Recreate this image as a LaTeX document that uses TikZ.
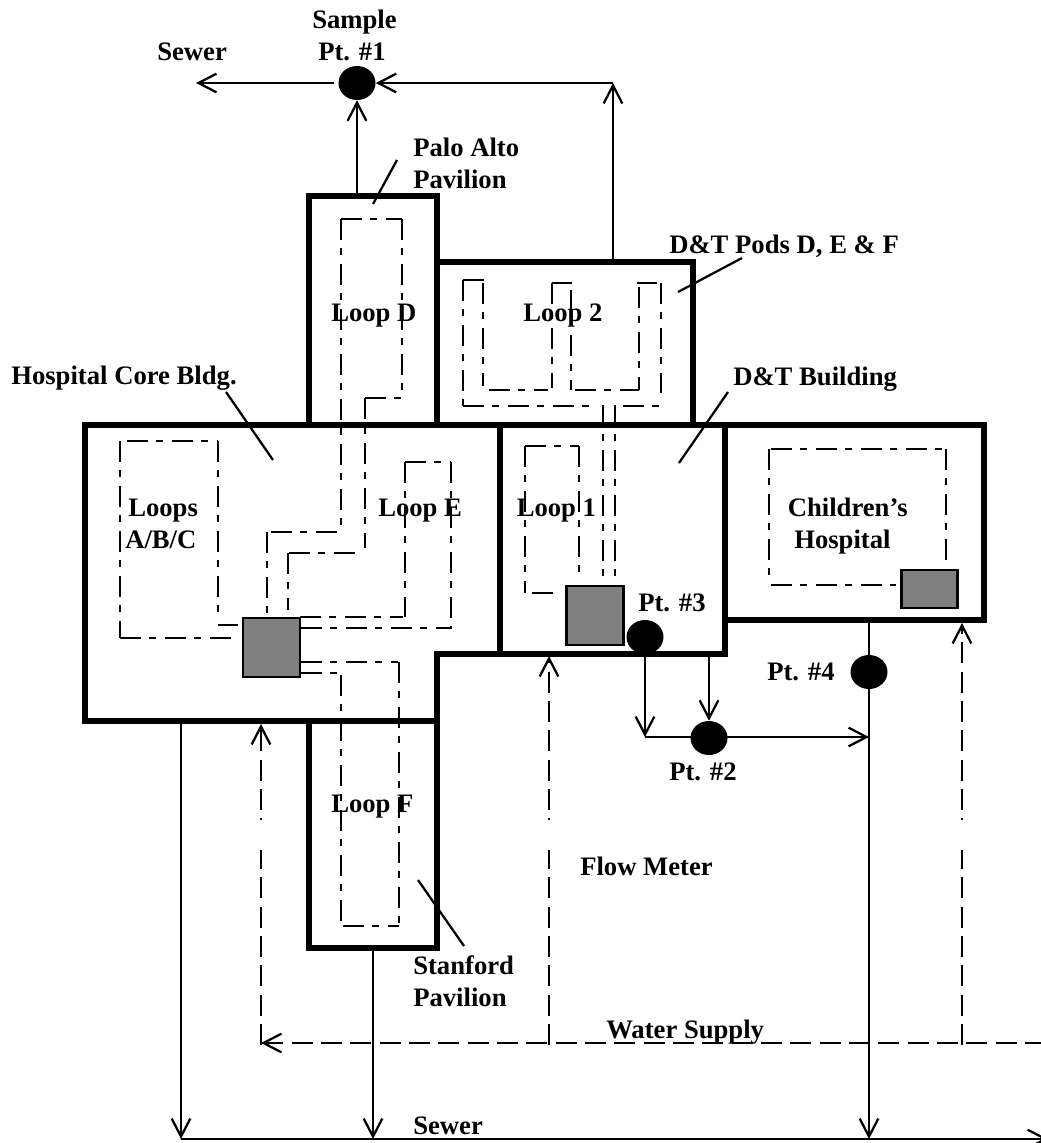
\documentclass[tikz,border=0pt]{standalone}
\usepackage{fontspec}
\setmainfont{Liberation Serif}
\usetikzlibrary{arrows.meta,shapes.geometric}
\definecolor{boxgray}{gray}{0.5}
\tikzset{
  wall/.style={line width=4.2pt,line join=miter},
  flow/.style={line width=1.7pt,-{Straight Barb[length=13.5pt,width=14pt,line width=1.7pt]}},
  plainline/.style={line width=1.7pt},
  supply/.style={flow,dash pattern=on 15.75pt off 6.25pt},
  supplyplain/.style={line width=1.7pt,dash pattern=on 15.75pt off 6.25pt},
  loopline/.style={line width=1.7pt,dash pattern=on 15.75pt off 6pt on 5.25pt off 6.75pt},
  leader/.style={line width=1.7pt},
  pump/.style={draw=black,line width=1.7pt,fill=boxgray,inner sep=0pt,rectangle},
  sample/.style={ellipse,fill=black,inner sep=0pt,minimum width=27.75pt,minimum height=25.5pt},
  lab/.style={inner sep=0pt,anchor=base west,font=\bfseries\fontsize{20}{24}\selectfont},
}
\begin{document}
\begin{tikzpicture}[x=0.75pt,y=-0.75pt]
\useasboundingbox (0,0) rectangle (1041,1143);

% sampling points (Pt. #3 lies under the wall)
\node[sample] (s1) at (357,83) {};
\node[sample] (s2) at (709,738) {};
\node[sample] (s3) at (645,637) {};
\node[sample] (s4) at (869,672) {};

% free ends
\coordinate (sewerW) at (196,83);
\coordinate (s1gap) at (334,83);
\coordinate (corner1) at (613,83);
\coordinate (podsTop) at (613,262);
\coordinate (paloTop) at (357,196);
\coordinate (bldgB) at (709,653);
\coordinate (join2) at (645,737);
\coordinate (main4) at (869,737);
\coordinate (childBot) at (869,620);
\coordinate (sewerA) at (181,1139);
\coordinate (sewerB) at (373,1139);
\coordinate (sewerC) at (869,1139);
\coordinate (sewerE) at (1048,1139);
\coordinate (coreBot) at (181,721);
\coordinate (stanBot) at (373,948);
\coordinate (supE) at (1046,1043);
\coordinate (supW) at (261,1043);
\coordinate (supM) at (549,1045);
\coordinate (supL) at (261,1045);
\coordinate (supR) at (962,1045);
\coordinate (tipW) at (261,724);
\coordinate (tipM) at (549,656);
\coordinate (tipR) at (962,623);
\coordinate (gapWa) at (261,810);
\coordinate (gapWb) at (261,850);
\coordinate (gapMa) at (549,810);
\coordinate (gapMb) at (549,850);
\coordinate (gapRa) at (962,810);
\coordinate (gapRb) at (962,850);
\coordinate (dotWa) at (261,817.5);
\coordinate (dotWb) at (261,820);
\coordinate (dotMa) at (549,817.5);
\coordinate (dotMb) at (549,820);
\coordinate (dotRa) at (962,817.5);
\coordinate (dotRb) at (962,820);

% loops: every straight run restarts its own dash pattern
\draw[loopline] (127,441) -- (218,441) (120,441) -- (120,638) (120,638) -- (233,638)
  (218,441) -- (218,613) (218,625) -- (238,625);
\draw[loopline] (341,219) -- (402,219) (341,219) -- (341,532) (402,219) -- (402,398)
  (365,398) -- (402,398) (365,398) -- (365,548) (271,532) -- (337,532)
  (267,532) -- (267,613) (289,553) -- (356,553) (288,553) -- (288,610);
\draw[loopline] (300,617) -- (403,617) (301,628) -- (452,628) (405,462) -- (405,617)
  (405,462) -- (451,462) (451,462) -- (451,628);
\draw[loopline] (301,662) -- (398,662) (301,673) -- (338,673) (341,675) -- (341,926)
  (399,662) -- (399,926) (343,926) -- (399,926);
\draw[loopline] (525,446) -- (525,593) (525,446) -- (579,446) (579,446) -- (579,575)
  (532,593) -- (553,593);
\draw[loopline] (603,405) -- (603,578) (615,405) -- (615,578);
\draw[loopline] (463,280) -- (463,406) (463,280) -- (484,280) (483,283) -- (483,386)
  (489,390) -- (548,390) (552,283) -- (552,388) (552,283) -- (572,283) (571,290) -- (571,390)
  (575,390) -- (639,390) (639,287) -- (639,390) (637,283) -- (657,283) (661,283) -- (661,393)
  (463,406) -- (592,406) (623,406) -- (661,406);
\draw[loopline] (771,449) -- (946,449) (769,449) -- (769,578) (771,585) -- (896,585)
  (946,449) -- (946,562);

% gray mechanical rooms
\node[pump,minimum width=42.75pt,minimum height=44.25pt] (roomA) at (271.5,647.5) {};
\node[pump,minimum width=42.75pt,minimum height=44.25pt] (roomB) at (595,615.5) {};
\node[pump,minimum width=42pt,minimum height=28.5pt] (roomC) at (929.5,589) {};

% buildings
\draw[wall] (437,654) -- (500,654) -- (500,425) -- (85,425) -- (85,721) -- (437,721) -- cycle;
\draw[wall] (309,425) -- (309,196) -- (437,196) -- (437,425);
\draw[wall] (437,262) -- (693,262) -- (693,425);
\draw[wall] (500,425) -- (725,425) -- (725,654) -- (500,654);
\draw[wall] (725,425) -- (984,425) -- (984,620) -- (725,620);
\draw[wall] (309,721) -- (309,948) -- (437,948) -- (437,721);

% sewer flows
\draw[flow] (s1gap) -- (sewerW);
\draw[flow] (corner1) -- (s1);
\draw[flow] (paloTop) -- (s1);
\draw[flow] (podsTop) -- (corner1);
\draw[flow] (s3) -- (join2);
\draw[flow] (bldgB) -- (s2);
\draw[plainline] (join2) -- (join2 -| s2);
\draw[flow] (join2 -| s2) -- (main4);
\draw[plainline] (childBot) -- (s4);
\draw[flow] (s4) -- (sewerC);
\draw[flow] (coreBot) -- (sewerA);
\draw[flow] (stanBot) -- (sewerB);
\draw[flow] (sewerA) -- (sewerE);

% water supply
\draw[supply] (supE) -- (supW);
\draw[supplyplain] (supL) -- (gapWb);
\draw[supply] (gapWa) -- (tipW);
\draw[plainline] (dotWa) -- (dotWb);
\draw[supplyplain] (supM) -- (gapMb);
\draw[supply] (gapMa) -- (tipM);
\draw[plainline] (dotMa) -- (dotMb);
\draw[supplyplain] (supR) -- (gapRb);
\draw[supply] (gapRa) -- (tipR);
\draw[plainline] (dotRa) -- (dotRb);

% leaders
\draw[leader] (226,392) -- (273,460);
\draw[leader] (397,160) -- (373,204);
\draw[leader] (678,292) -- (742,258);
\draw[leader] (679,463) -- (728,392);
\draw[leader] (418,880) -- (464,946);

% labels
\node[lab] (tSample) at (312,28) {Sample};
\node[lab] (tPt1) at (318,60) {Pt. \#1};
\node[lab] (tSewerN) at (157,60) {Sewer};
\node[lab] (tPalo) at (413,156) {Palo Alto};
\node[lab] (tPaloB) at (413,188) {Pavilion};
\node[lab] (tPods) at (669,253) {D\&T Pods D, E \& F};
\node[lab] (tLoopD) at (331,321) {Loop D};
\node[lab] (tLoop2) at (523,321) {Loop 2};
\node[lab] (tCore) at (11,384) {Hospital Core Bldg.};
\node[lab] (tBldg) at (733,385) {D\&T Building};
\node[lab] (tLoops) at (128,516) {Loops};
\node[lab] (tABC) at (125,548) {A/B/C};
\node[lab] (tLoopE) at (378,516) {Loop E};
\node[lab] (tLoop1) at (516.5,516) {Loop 1};
\node[lab] (tChild) at (787.5,516) {Children’s};
\node[lab] (tHosp) at (794,548) {Hospital};
\node[lab] (tPt3) at (638,611) {Pt. \#3};
\node[lab] (tPt4) at (767,680) {Pt. \#4};
\node[lab] (tPt2) at (669,780) {Pt. \#2};
\node[lab] (tFlow) at (580,875) {Flow Meter};
\node[lab] (tWater) at (606,1038) {Water Supply};
\node[lab] (tLoopF) at (331,812) {Loop F};
\node[lab] (tStan) at (413,974) {Stanford};
\node[lab] (tStanB) at (413,1006) {Pavilion};
\node[lab] (tSewerS) at (413,1134) {Sewer};
\end{tikzpicture}
\end{document}
